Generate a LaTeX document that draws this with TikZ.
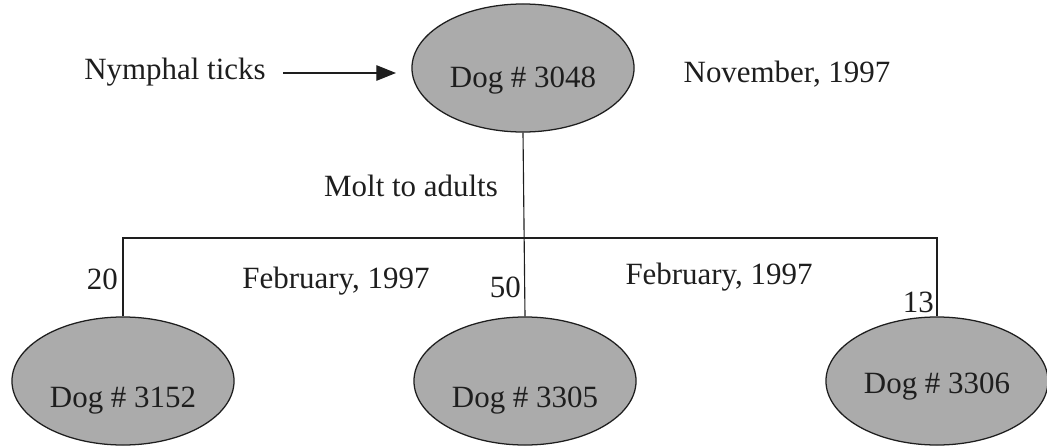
\documentclass[tikz,border=0pt]{standalone}
\usepackage{fontspec}
\setmainfont{Liberation Serif}
\usetikzlibrary{shapes.geometric, arrows.meta, positioning}
\definecolor{dogfill}{HTML}{ABABAB}
\definecolor{inkline}{HTML}{1E1E1E}

% dog label, lowered by #1 without changing the node size
\newcommand{\dogtext}[2]{\raisebox{#1}[0pt][0pt]{Dog \# #2}}

\tikzset{
  dog/.style={ellipse, draw=inkline, line width=0.9pt, fill=dogfill,
    minimum width=5.55cm, minimum height=3.2cm, inner sep=0pt,
    font=\fontsize{22}{26}\selectfont, text=inkline},
  lbl/.style={font=\fontsize{22}{26}\selectfont, text=inkline, inner sep=0pt},
  link/.style={draw=inkline, line width=0.8pt}
}

\begin{document}
\begin{tikzpicture}[x=0.025cm, y=-0.025cm]
    \useasboundingbox (0,0) rectangle (1047,447);
    % Parent dog
    \node[dog] (top) at (523,68) {\dogtext{-0.475cm}{3048}};
    \node[lbl] (nymph) at (175,72) {Nymphal ticks};
    \node[lbl] (nov) at (787,74) {November, 1997};
    \coordinate (arrowtail) at (283,73);
    \coordinate (arrowtip) at (396,73);
    \draw[link, -{Triangle[length=14pt, width=11pt]}] (arrowtail) -- (arrowtip);
    % Offspring dogs
    \node[dog] (d1) at (123,381) {\dogtext{-0.65cm}{3152}};
    \node[dog] (d2) at (525,381) {\dogtext{-0.65cm}{3305}};
    \node[dog] (d3) at (937,381) {\dogtext{-0.3cm}{3306}};
    % Tree
    \coordinate (hub) at (525,238);
    \draw[link] (top.south) -- (d2.north);
    \draw[link] (d1.north) -- (d1.north |- hub) -- (d3.north |- hub) -- (d3.north);
    % Labels
    \node[lbl] (molt) at (411,186) {Molt to adults};
    \node[lbl, anchor=east] (n20) at (118,279) {20};
    \node[lbl, anchor=east] (n50) at (521,287) {50};
    \node[lbl, anchor=east] (n13) at (934,302) {13};
    \node[lbl] (feb1) at (336,281) {February, 1997};
    \node[lbl] (feb2) at (719,277) {February, 1997};
\end{tikzpicture}
\end{document}
